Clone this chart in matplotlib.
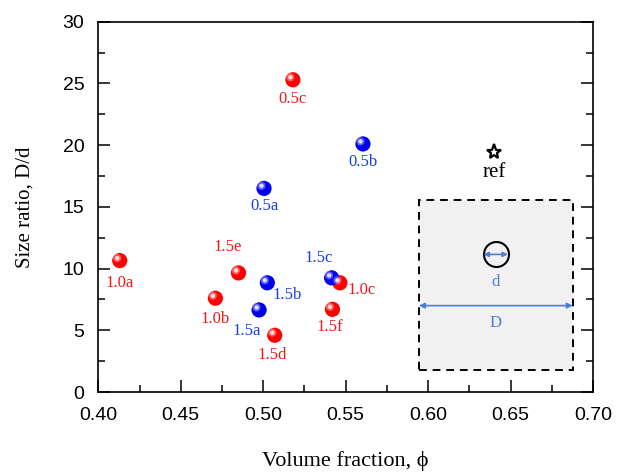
import numpy as np
import matplotlib.pyplot as plt
from matplotlib.patches import Rectangle
from matplotlib.transforms import ScaledTranslation

# datos
red_labels = ['1.0a', '0.5c', '1.5e', '1.0b', '1.5d', '1.0c', '1.5f']
red_phi = [0.413, 0.518, 0.485, 0.471, 0.507, 0.5465, 0.542]
red_ratio = [10.65, 25.3, 9.65, 7.6, 4.6, 8.85, 6.7]

blue_labels = ['0.5b', '0.5a', '1.5b', '1.5a', '1.5c']
blue_phi = [0.5605, 0.5005, 0.5025, 0.4975, 0.5415]
blue_ratio = [20.1, 16.5, 8.85, 6.65, 9.25]

ref_phi = 0.64
ref_ratio = 19.45

# desplazamiento de etiquetas en puntos
red_off = [(0, -16), (0, -14), (-8, 19), (0, -15), (-2, -14), (16, -5), (-2, -13)]
blue_off = [(0, -13), (0, -13), (14, -9), (-9, -15), (-9, 14)]

serif = 'Liberation Serif'
plt.rcParams['font.family'] = 'Liberation Sans'

fig = plt.figure(figsize=(6.19, 4.73), dpi=100)
ax = fig.add_axes([0.1588, 0.1712, 0.958 - 0.1588, 0.954 - 0.1712])


def bolitas(x, y, color):
    ax.scatter(x, y, s=120, color=color, zorder=3, edgecolors='none')
    off = ax.transData + ScaledTranslation(-1.8 / 72, 1.8 / 72, fig.dpi_scale_trans)
    ax.scatter(x, y, s=35, color='white', alpha=0.35, zorder=4, edgecolors='none', transform=off)
    ax.scatter(x, y, s=10, color='white', alpha=0.8, zorder=5, edgecolors='none', transform=off)


bolitas(red_phi, red_ratio, '#ff0000')
bolitas(blue_phi, blue_ratio, '#0000ee')

for lab, x, y, o in zip(red_labels, red_phi, red_ratio, red_off):
    ax.annotate(lab, (x, y), xytext=o, textcoords='offset points', ha='center', va='center',
                color='#f01818', fontsize=12, family=serif)
for lab, x, y, o in zip(blue_labels, blue_phi, blue_ratio, blue_off):
    ax.annotate(lab, (x, y), xytext=o, textcoords='offset points', ha='center', va='center',
                color='#1a3ee8', fontsize=12, family=serif)

ax.plot(ref_phi, ref_ratio, marker='*', ms=11, mfc='white', mec='black', mew=1.6, zorder=3)
ax.annotate('ref', (ref_phi, ref_ratio), xytext=(0, -15), textcoords='offset points',
            ha='center', va='center', fontsize=15, family=serif)

# esquema del recuadro
azul = '#4a7fd4'
ax.add_patch(Rectangle((0.5945, 1.75), 0.0932, 13.82, facecolor='#f1f1f1', edgecolor='black',
                       ls=(0, (4, 3)), lw=1.4, zorder=1))
cx, cy = 0.6410, 11.15
ax.plot(cx, cy, marker='o', ms=18, mfc='none', mec='black', mew=1.5, zorder=2)
ax.annotate('', xy=(cx + 0.0074, cy), xytext=(cx - 0.0074, cy),
            arrowprops=dict(arrowstyle='<|-|>', color=azul, lw=1.2, mutation_scale=7,
                            shrinkA=0, shrinkB=0))
ax.text(cx, 8.9, 'd', color=azul, ha='center', va='center', fontsize=12, family=serif)
ax.annotate('', xy=(0.6877, 7.0), xytext=(0.5945, 7.0),
            arrowprops=dict(arrowstyle='<|-|>', color=azul, lw=1.2, mutation_scale=8,
                            shrinkA=0, shrinkB=0))
ax.text(cx, 5.6, 'D', color=azul, ha='center', va='center', fontsize=12, family=serif)

ax.set_xlim(0.40, 0.70)
ax.set_ylim(0, 30)
ax.set_xticks(np.arange(0.40, 0.701, 0.05))
ax.set_xticks(np.arange(0.425, 0.70, 0.05), minor=True)
ax.set_yticks(np.arange(0, 31, 5))
ax.set_yticks(np.arange(2.5, 30, 5), minor=True)
ax.xaxis.set_major_formatter(plt.FormatStrFormatter('%.2f'))
ax.tick_params(which='both', direction='in', right=True, labelsize=14, width=1.1)
ax.tick_params(axis='x', pad=11)
ax.tick_params(axis='y', pad=10)
ax.tick_params(which='major', length=8.5)
ax.tick_params(which='minor', length=5)
for s in ax.spines.values():
    s.set_linewidth(1.2)

ax.set_xlabel('Volume fraction, ϕ', family=serif, fontsize=16, labelpad=19)
ax.set_ylabel('Size ratio, D/d', family=serif, fontsize=15, labelpad=20)

fig.savefig('out.png', dpi=100)
